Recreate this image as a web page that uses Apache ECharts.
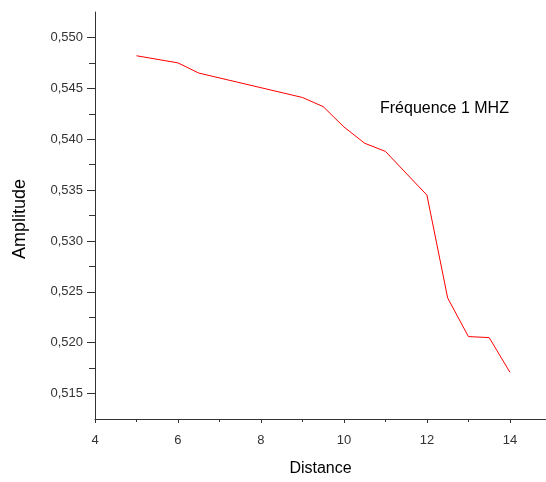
<!DOCTYPE html>
<html>
<head>
<meta charset="utf-8">
<script src="https://cdn.jsdelivr.net/npm/echarts@6/dist/echarts.min.js"></script>
<style>
  html, body { margin: 0; padding: 0; background: #fff; }
  #chart { width: 546px; height: 482px; }
</style>
</head>
<body>
<div id="chart"></div>
<script>
// Measured amplitude versus distance at 1 MHz
const distance = [5, 6, 6.5, 9, 9.5, 10, 10.5, 11, 12, 12.5, 13, 13.5, 14];
const amplitude = [0.5482, 0.5475, 0.5465, 0.5441, 0.5432, 0.5412, 0.5396, 0.5388, 0.5345, 0.5244, 0.5206, 0.5205, 0.5171];

const xMajorTicks = [4, 6, 8, 10, 12, 14];
const xMinorTicks = [5, 7, 9, 11, 13];
const yMajorTicks = [0.515, 0.52, 0.525, 0.53, 0.535, 0.54, 0.545, 0.55];
const yMinorTicks = [0.5175, 0.5225, 0.5275, 0.5325, 0.5375, 0.5425, 0.5475];

const font = 'Liberation Sans, Arial, sans-serif';
const axisColor = '#333';

const chart = echarts.init(document.getElementById('chart'), null, { renderer: 'canvas' });

const xRange = { min: 4, max: 14.87 };
const yRange = { min: 0.5125, max: 0.5525 };

chart.setOption({
  animation: false,
  backgroundColor: '#fff',
  grid: { left: 95, right: 0, top: 12, bottom: 63, containLabel: false },
  xAxis: [
    {
      type: 'value', ...xRange,
      name: 'Distance', nameLocation: 'middle', nameGap: 42,
      nameTextStyle: { fontFamily: font, fontSize: 16, color: '#000' },
      axisLine: { onZero: false, lineStyle: { color: axisColor, width: 1 } },
      axisTick: { show: true, inside: false, length: 4, customValues: xMajorTicks, lineStyle: { color: axisColor } },
      axisLabel: { customValues: xMajorTicks, margin: 15, fontFamily: font, fontSize: 13, color: '#333' },
      splitLine: { show: false }
    },
    {
      type: 'value', ...xRange, position: 'bottom',
      axisLine: { show: false, onZero: false },
      axisTick: { show: true, length: 3, customValues: xMinorTicks, lineStyle: { color: axisColor } },
      axisLabel: { show: false },
      splitLine: { show: false }
    }
  ],
  yAxis: [
    {
      type: 'value', ...yRange,
      axisLine: { show: true, onZero: false, lineStyle: { color: axisColor, width: 1 } },
      axisTick: { show: true, length: 8, customValues: yMajorTicks, lineStyle: { color: axisColor } },
      axisLabel: {
        customValues: yMajorTicks, margin: 12, fontFamily: font, fontSize: 13, color: '#333',
        formatter: v => v.toFixed(3).replace('.', ',')
      },
      splitLine: { show: false }
    },
    {
      type: 'value', ...yRange, position: 'left',
      axisLine: { show: false, onZero: false },
      axisTick: { show: true, length: 6, customValues: yMinorTicks, lineStyle: { color: axisColor } },
      axisLabel: { show: false },
      splitLine: { show: false }
    }
  ],
  graphic: [
    {
      // vertical axis title
      type: 'text', x: 20, y: 219, rotation: Math.PI / 2,
      style: { text: 'Amplitude', font: '18px ' + font, fill: '#000', align: 'center', verticalAlign: 'middle' }
    },
    {
      type: 'text', left: 380, top: 101,
      style: { text: 'Fréquence 1 MHZ', font: '16px ' + font, fill: '#000' }
    }
  ],
  series: [
    {
      type: 'line',
      xAxisIndex: 0, yAxisIndex: 0,
      data: distance.map((d, i) => [d, amplitude[i]]),
      showSymbol: false,
      lineStyle: { color: '#ff0000', width: 1 },
      itemStyle: { color: '#ff0000' }
    }
  ]
});
</script>
</body>
</html>
